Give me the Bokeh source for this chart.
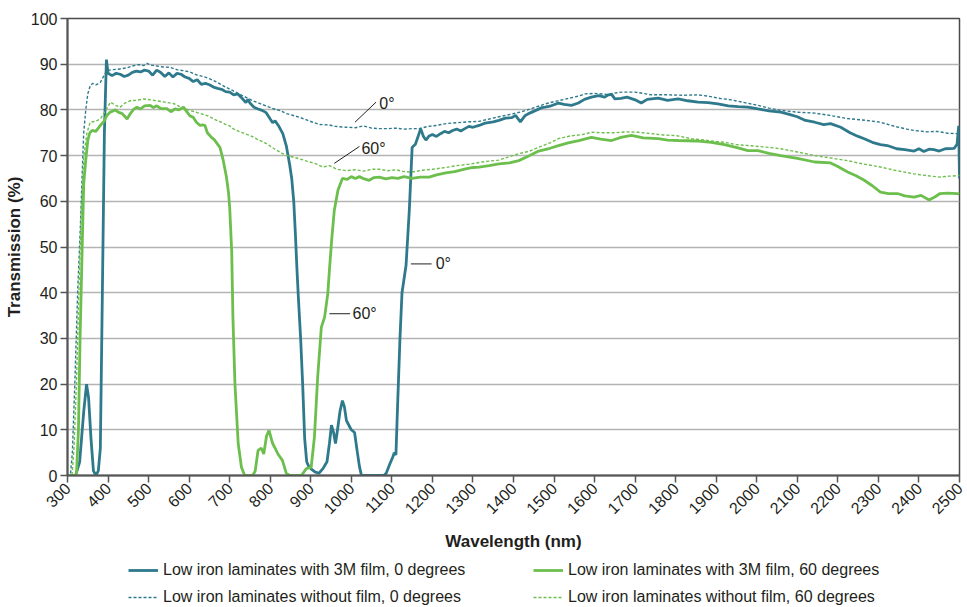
import math
from bokeh.plotting import figure
from bokeh.layouts import column
from bokeh.models import FixedTicker, Legend, LegendItem, ColumnDataSource
from bokeh.core.properties import value
from bokeh.embed import file_html
from bokeh.resources import INLINE

FONT = "Liberation Sans"
TXT = "#231f20"
BLUE = "#2e7a8c"
GREEN = "#6cbf4c"

# ---- data: Low iron laminates with 3M film, 0 degrees ----
wl_film_0 = [300, 320, 330, 340, 347, 352, 358, 364, 370, 376, 381, 386, 391, 396, 400, 410, 420, 430, 440, 450,
             460, 470, 480, 490, 500, 510, 520, 530, 540, 550, 560, 570, 580, 590, 600, 610, 620, 630, 640, 650,
             660, 670, 680, 690, 700, 710, 720, 730, 740, 745, 750, 760, 770, 780, 790, 800, 806, 812, 820, 831,
             840, 848, 853, 858, 862, 866, 870, 875, 880, 885, 890, 895, 900, 910, 920, 930, 940, 946, 951, 956,
             961, 966, 972, 978, 983, 988, 994, 1000, 1008, 1015, 1020, 1025, 1040, 1060, 1080, 1086, 1095, 1102,
             1106, 1110, 1114, 1120, 1125, 1135, 1143, 1150, 1158, 1164, 1171, 1178, 1184, 1192, 1200, 1210, 1220,
             1230, 1240, 1250, 1260, 1270, 1280, 1290, 1300, 1315, 1330, 1350, 1364, 1380, 1396, 1405, 1417, 1429,
             1440, 1455, 1470, 1478, 1490, 1511, 1525, 1543, 1560, 1575, 1592, 1610, 1625, 1634, 1642, 1650, 1665,
             1680, 1700, 1715, 1730, 1757, 1780, 1806, 1830, 1855, 1880, 1904, 1930, 1954, 1978, 2003, 2030, 2059,
             2080, 2100, 2120, 2143, 2165, 2182, 2207, 2230, 2250, 2265, 2285, 2305, 2322, 2345, 2365, 2388, 2400,
             2412, 2425, 2437, 2450, 2465, 2487, 2494, 2498, 2500]
tr_film_0 = [0, 0, 3, 14, 20, 17, 8, 1, 0, 1, 6, 40, 75, 91, 88, 87.5, 88, 87.8, 87.3, 87.6,
             88.2, 88.5, 88.3, 88.7, 88.5, 87.6, 88.7, 88.2, 87.3, 88.1, 87.2, 88, 87.8, 87.2, 86.9, 86.2, 86.6, 85.6, 85.8, 85.5,
             85.0, 84.7, 84.5, 84.0, 83.9, 83.3, 83.5, 82.6, 81.6, 82.3, 81.5, 80.6, 80.2, 79.9, 79.4, 78.0, 77.2, 77.6, 76.6, 74.8,
             72.0, 68, 65, 60, 53, 45, 38, 30, 20, 8, 3, 2, 1.5, 0.8, 0.5, 1.5, 3, 7, 11, 9.5,
             7, 10, 14, 16.4, 15, 12, 11, 10, 9.4, 5, 2, 0, 0, 0, 0, 0.5, 2.5, 4,
             5, 4.5, 15, 30, 40, 46, 58, 71.8, 72.5, 74, 75.9, 74.2, 73.4, 74.3, 74.6, 74.2, 74.8,
             75.3, 75.0, 75.5, 75.8, 75.4, 75.9, 76.4, 76.2, 76.6, 77.1, 77.4, 77.7, 78.2, 78.3, 78.8, 77.4, 78.8,
             79.3, 79.9, 80.5, 80.6, 80.8, 81.5, 81.2, 81.0, 81.5, 82.3, 82.8, 83.1, 82.8, 83.3, 83.4, 82.4, 82.5,
             82.8, 82.2, 81.5, 82.3, 82.6, 82.1, 82.4, 82.0, 81.7, 81.6, 81.3, 80.9, 80.7, 80.6, 80.2, 79.8, 79.5,
             79.0, 78.5, 77.7, 77.3, 76.8, 77.0, 76.2, 75.0, 74.2, 73.7, 72.9, 72.4, 72.2, 71.5, 71.3, 71.0, 71.5,
             70.9, 71.4, 71.3, 71.0, 71.5, 71.6, 72.5, 76.5, 65]

# ---- data: Low iron laminates without film, 0 degrees ----
wl_nofilm_0 = [300, 307, 312, 318, 325, 332, 337, 340, 345, 350, 356, 362, 370, 381, 390, 397, 410, 425, 446, 460,
               475, 488, 496, 505, 520, 535, 553, 570, 585, 602, 620, 635, 651, 670, 690, 708, 730, 757, 780, 806,
               823, 840, 872, 890, 905, 922, 946, 960, 988, 1010, 1030, 1050, 1069, 1090, 1110, 1130, 1150, 1167,
               1190, 1210, 1233, 1260, 1290, 1315, 1340, 1364, 1396, 1420, 1445, 1478, 1500, 1530, 1560, 1577, 1600,
               1630, 1666, 1700, 1740, 1780, 1820, 1855, 1880, 1910, 1937, 1970, 2003, 2030, 2059, 2100, 2143, 2180,
               2224, 2260, 2305, 2340, 2370, 2388, 2420, 2445, 2470, 2494, 2500]
tr_nofilm_0 = [0, 0, 5, 20, 40, 55, 68, 75, 80, 83.5, 85.3, 85.8, 85.5, 86, 87.5, 88.6, 88.8, 88.9, 89.2, 89.6,
               89.9, 89.7, 90.2, 89.8, 89.6, 89.4, 89.3, 88.8, 88.6, 88.3, 87.6, 87.3, 86.8, 86.0, 85.0, 84.2, 83.2, 82.0, 81.2, 80.3,
               79.9, 79.2, 78.4, 77.8, 77.3, 76.8, 76.7, 76.4, 76.2, 76.1, 76.5, 76.0, 75.9, 75.9, 76.0, 75.8, 75.9, 75.9,
               76.4, 76.6, 77.0, 77.2, 77.4, 77.5, 78.0, 78.5, 79.1, 79.6, 80.3, 81.3, 81.8, 82.4, 83.0, 83.5, 83.6,
               83.4, 83.9, 83.9, 83.3, 83.3, 83.2, 83.3, 83.0, 82.5, 82.2, 81.6, 81.0, 80.4, 79.9, 79.5, 79.3, 78.8,
               78.1, 77.8, 77.3, 76.4, 75.8, 75.5, 75.2, 75.3, 74.9, 74.8, 74.8]

# ---- data: Low iron laminates with 3M film, 60 degrees ----
wl_film_60 = [300, 322, 327, 331, 336, 340, 345, 350, 355, 361, 370, 381, 390, 397, 405, 418, 425, 435, 447, 455,
              463, 471, 480, 490, 504, 512, 520, 530, 545, 555, 565, 575, 586, 595, 602, 610, 618, 627, 633, 639,
              645, 655, 662, 670, 676, 684, 692, 697, 700, 705, 708, 713, 721, 729, 737, 757, 763, 770, 778, 784,
              791, 797, 806, 812, 819, 830, 840, 850, 877, 889, 901, 909, 917, 926, 934, 942, 946, 952, 958, 967,
              978, 990, 1000, 1010, 1020, 1032, 1044, 1056, 1069, 1085, 1100, 1115, 1130, 1150, 1170, 1192, 1210,
              1233, 1255, 1282, 1300, 1315, 1340, 1364, 1390, 1413, 1440, 1462, 1490, 1511, 1535, 1561, 1592, 1615,
              1642, 1665, 1691, 1720, 1757, 1780, 1806, 1850, 1888, 1920, 1954, 1978, 2003, 2030, 2059, 2100, 2143,
              2182, 2200, 2224, 2245, 2265, 2285, 2305, 2325, 2347, 2365, 2388, 2405, 2425, 2440, 2452, 2470, 2494,
              2500]
tr_film_60 = [0, 0, 10, 30, 49, 63.8, 69, 73.3, 75, 75.5, 75.3, 76.6, 77.5, 78.8, 79.5, 80, 79.5, 79.2, 78, 79.2,
              80.1, 80.6, 80.2, 80.9, 81, 80.5, 80.9, 80.3, 80.3, 79.6, 80.2, 80.0, 80.6, 79.5, 78.7, 78.4, 77.3, 76.6, 76.7, 76.6,
              75.0, 74, 73.5, 72.5, 71.8, 69, 65.3, 62, 58.7, 49, 34.6, 20, 7, 1.8, 0, 0, 1, 5.5, 6, 4.7,
              8.7, 9.9, 7, 6, 4.7, 3.3, 0.4, 0, 0, 1.5, 1.8, 8.4, 21.5, 32.4, 34.6, 39.8, 45, 52, 58, 62.4,
              65, 64.8, 65.4, 65.0, 65.4, 64.9, 64.6, 65.2, 65.3, 64.9, 65.2, 65.0, 65.4, 65.0, 65.3, 65.3, 65.8,
              66.2, 66.5, 67.1, 67.4, 67.5, 67.8, 68.2, 68.4, 68.9, 70.0, 71.0, 71.6, 72.2, 72.8, 73.3, 74.0, 73.6,
              73.3, 74.0, 74.4, 73.9, 73.7, 73.4, 73.3, 73.2, 72.9, 72.4, 71.7, 71.1, 71.1, 70.5, 70.0, 69.4, 68.6,
              68.4, 67.6, 66.4, 65.6, 64.6, 63.4, 62.0, 61.7, 61.7, 61.2, 60.9, 61.3, 60.3, 61.0, 61.7, 61.8, 61.7,
              61.6]

# ---- data: Low iron laminates without film, 60 degrees ----
wl_nofilm_60 = [300, 311, 316, 322, 328, 334, 340, 348, 356, 368, 381, 395, 406, 418, 430, 442, 455, 470, 488, 505,
                520, 540, 561, 580, 602, 620, 643, 655, 668, 680, 688, 700, 708, 725, 750, 770, 791, 810, 831, 850,
                872, 890, 913, 930, 946, 965, 987, 1010, 1030, 1050, 1069, 1090, 1110, 1130, 1150, 1175, 1200, 1233,
                1260, 1290, 1315, 1340, 1364, 1390, 1413, 1440, 1462, 1490, 1511, 1540, 1570, 1592, 1620, 1650, 1680,
                1707, 1740, 1770, 1800, 1839, 1870, 1900, 1921, 1950, 1978, 2003, 2030, 2059, 2100, 2143, 2180, 2224,
                2260, 2305, 2340, 2388, 2420, 2452, 2475, 2494, 2500]
tr_nofilm_60 = [0, 0, 6, 20, 40, 58, 69.7, 75, 77.3, 77.5, 78, 80, 81.7, 81, 80.6, 81.5, 82, 82.1, 82.4, 82.2,
                82, 81.7, 81.4, 80.6, 79.9, 79.4, 78.8, 78.3, 77.7, 77.3, 76.9, 76.5, 75.9, 75.2, 74.4, 73.5, 72.6, 71.5, 70.4, 69.8,
                69.3, 68.8, 68.2, 67.5, 67.8, 67.0, 66.7, 66.9, 66.6, 67.0, 67, 66.7, 66.9, 66.5, 66.4, 66.8, 67.0, 67.4,
                67.8, 68.1, 68.5, 68.8, 69.0, 69.8, 70.4, 71.0, 71.8, 72.8, 73.7, 74.3, 74.6, 75.1, 75.0, 75.0, 75.2,
                75.1, 74.8, 74.5, 74.4, 73.7, 73.4, 73.1, 72.9, 72.4, 72.2, 72.0, 71.8, 71.5, 70.8, 70.0, 69.5, 68.9,
                68.2, 67.5, 66.8, 66.0, 65.6, 65.3, 65.5, 65.6, 65.7]

x_ticks = list(range(300, 2501, 100))
y_ticks = list(range(0, 101, 10))

legend_labels = ["Low iron laminates with 3M film, 0 degrees",
                 "Low iron laminates without film, 0 degrees",
                 "Low iron laminates with 3M film, 60 degrees",
                 "Low iron laminates without film, 60 degrees"]

series = [(wl_film_0, tr_film_0), (wl_nofilm_0, tr_nofilm_0),
          (wl_film_60, tr_film_60), (wl_nofilm_60, tr_nofilm_60)]

# annotation callouts: (label, text x, text y, leader x0, y0, x1, y1)
callouts = [("0°", 1069, 81.4, 1009, 77.3, 1061, 81.7),
            ("60°", 1025, 71.6, 958, 68.3, 1020, 72.0),
            ("0°", 1208, 46.3, 1147, 46.3, 1198, 46.3),
            ("60°", 1003, 35.4, 946, 35.4, 997, 35.4)]

W = 967
H1 = 555
H2 = 52

p = figure(width=W, height=H1, output_backend="svg", toolbar_location=None,
           x_range=(300, 2500), y_range=(0, 100),
           min_border_left=67, min_border_right=8, min_border_top=18, min_border_bottom=80)
p.background_fill_color = "white"
p.border_fill_color = "white"
p.outline_line_color = "#4a4a4a"
p.outline_line_width = 1.5

LINE_STYLES = [dict(line_color=BLUE, line_width=2.8),
               dict(line_color=BLUE, line_width=1.4, line_dash="3 2"),
               dict(line_color=GREEN, line_width=2.8),
               dict(line_color=GREEN, line_width=1.4, line_dash="3 2")]

for (xs, ys), st in zip(series, LINE_STYLES):
    p.line(xs, ys, **st)

src = ColumnDataSource(dict(
    t=[c[0] for c in callouts], tx=[c[1] for c in callouts], ty=[c[2] for c in callouts],
    x0=[c[3] for c in callouts], y0=[c[4] for c in callouts],
    x1=[c[5] for c in callouts], y1=[c[6] for c in callouts]))
p.segment("x0", "y0", "x1", "y1", source=src, line_color="#222222", line_width=1)
p.text("tx", "ty", text="t", source=src, text_font=value(FONT), text_font_size="16px",
       text_color=TXT, text_baseline="middle", text_align="left")

for ax in (p.xaxis[0], p.yaxis[0]):
    ax.axis_line_color = "#555555"
    ax.axis_line_width = 2
    ax.major_tick_line_color = "#555555"
    ax.major_tick_line_width = 1.5
    ax.major_tick_out = 7
    ax.major_tick_in = 0
    ax.minor_tick_line_color = None
    ax.major_label_text_font = FONT
    ax.major_label_text_font_size = "16px"
    ax.major_label_text_color = TXT
    ax.axis_label_text_font = FONT
    ax.axis_label_text_font_size = "17px"
    ax.axis_label_text_font_style = "bold"
    ax.axis_label_text_color = TXT

p.xaxis.ticker = FixedTicker(ticks=x_ticks)
p.yaxis.ticker = FixedTicker(ticks=y_ticks)
p.xaxis.major_label_orientation = math.pi / 4
p.xaxis.axis_label = "Wavelength (nm)"
p.yaxis.axis_label = "Transmission (%)"
p.xaxis.major_label_standoff = 3
p.yaxis.major_label_standoff = 3
p.xaxis.axis_label_standoff = 10
p.yaxis.axis_label_standoff = 4

p.xgrid.grid_line_color = None
p.ygrid.grid_line_color = "#b4b4b4"
p.ygrid.grid_line_width = 1.5

# ---- legend strip below the chart (series lie outside this strip's ranges, so only the legend shows) ----
q = figure(width=W, height=H2, output_backend="svg", toolbar_location=None,
           x_range=(0, 1), y_range=(0, 1), x_axis_location=None, y_axis_location=None,
           min_border_left=0, min_border_right=0, min_border_top=0, min_border_bottom=0)
q.outline_line_color = None
q.grid.grid_line_color = None
q.background_fill_color = "white"
q.border_fill_color = "white"
proxies = [q.line(xs, ys, **st) for (xs, ys), st in zip(series, LINE_STYLES)]

def make_legend(pairs, loc):
    lg = Legend(items=[LegendItem(label=lab, renderers=[r]) for lab, r in pairs],
                location=loc, orientation="vertical")
    lg.border_line_color = None
    lg.background_fill_alpha = 0
    lg.padding = 0
    lg.margin = 0
    lg.spacing = 9
    lg.glyph_width = 30
    lg.glyph_height = 16
    lg.label_height = 16
    lg.label_standoff = 5
    lg.label_text_font = FONT
    lg.label_text_font_size = "16px"
    lg.label_text_color = TXT
    return lg

q.add_layout(make_legend([(legend_labels[0], proxies[0]), (legend_labels[1], proxies[1])], (61, 1)), "center")
q.add_layout(make_legend([(legend_labels[2], proxies[2]), (legend_labels[3], proxies[3])], (466, 1)), "center")

layout = column(p, q, spacing=0)
open("out.html", "w").write(file_html(layout, INLINE))
